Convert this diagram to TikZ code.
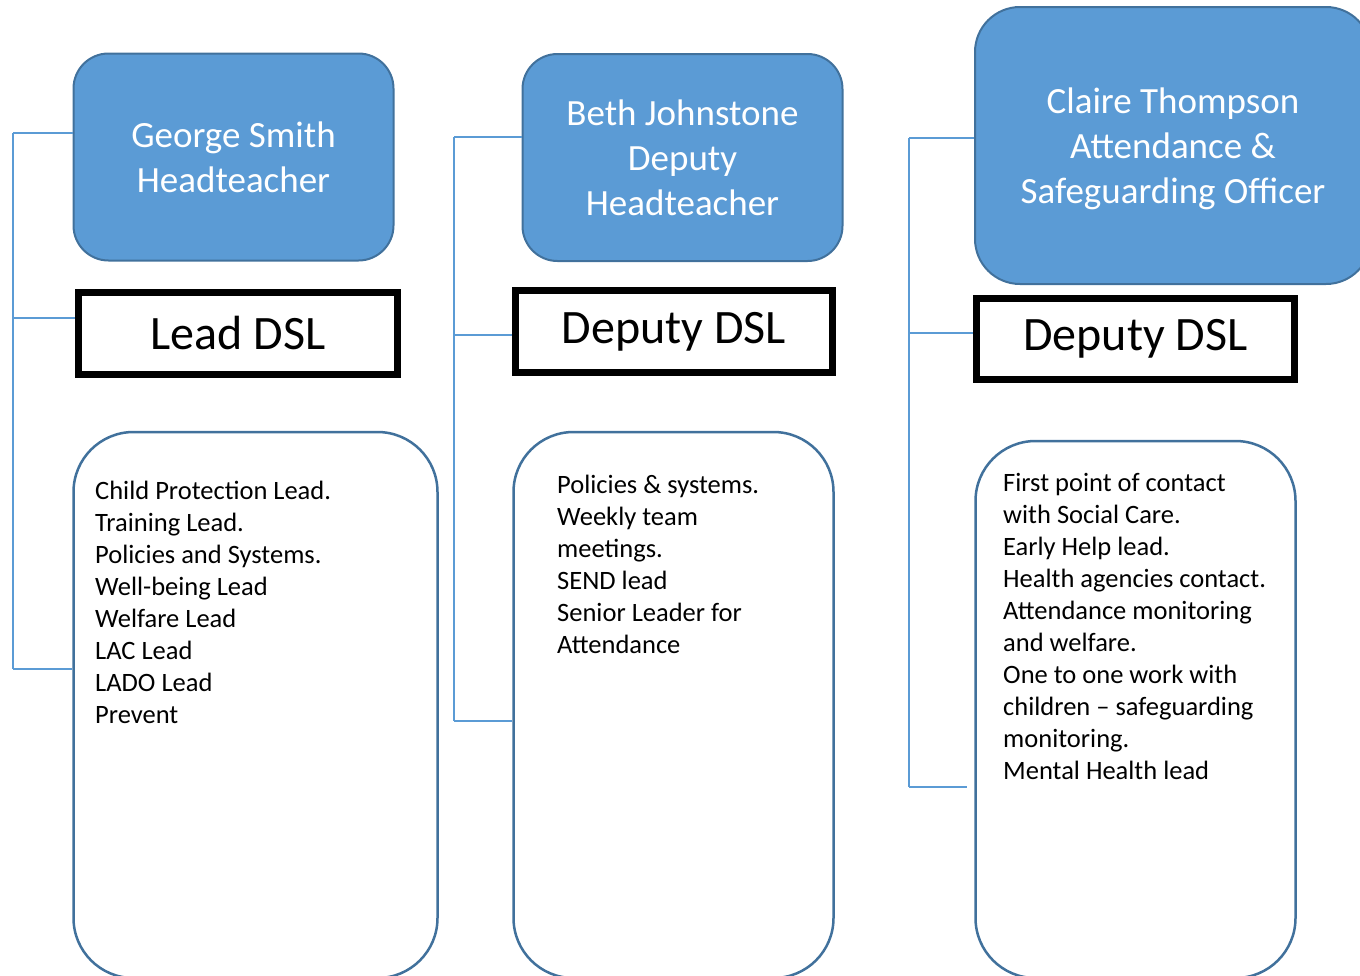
\documentclass[tikz,border=0pt]{standalone}
\usepackage{fontspec}
\setmainfont{Carlito}
\usepackage{tikz}
\definecolor{dslblue}{HTML}{5B9BD5}
\definecolor{dsledge}{HTML}{41719C}

\begin{document}
\begin{tikzpicture}[x=1pt, y=-1pt,
    namebox/.style={draw=dsledge, line width=2pt, fill=dslblue, rounded corners=35pt,
        text=white, align=center, inner sep=0pt,
        font=\fontsize{37}{45}\selectfont},
    rolebox/.style={draw=black, line width=7pt, inner sep=0pt,
        font=\fontsize{48}{56}\selectfont},
    dutybox/.style={draw=dsledge, line width=2.5pt, rounded corners=60pt, inner sep=0pt},
    dutytext/.style={anchor=north west, align=left, inner sep=0pt,
        font=\fontsize{26.5}{32}\selectfont},
    link/.style={draw=dslblue, line width=1.5pt}]

    \useasboundingbox (0,0) rectangle (1360,975);
    \clip (0,0) rectangle (1360,975);

    % George Smith column
    \node[namebox, minimum width=320, minimum height=207] (geo) at (233.5,157)
        {George Smith\\Headteacher};
    \node[rolebox, minimum width=319, minimum height=82] (lead) at (238,333.5) {Lead DSL};
    \node[dutybox, minimum width=364, minimum height=546] (geoduty) at (255.5,705) {};
    \node[dutytext] (geotext) at (95,481)
        {Child Protection Lead.\\Training Lead.\\Policies and Systems.\\Well-being Lead\\Welfare Lead\\LAC Lead\\LADO Lead\\Prevent};

    % Beth Johnstone column
    \node[namebox, minimum width=320, minimum height=207] (beth) at (682.5,157.5)
        {Beth Johnstone\\Deputy\\Headteacher};
    \node[rolebox, minimum width=317, minimum height=82] (dep1) at (674,331.5) {Deputy DSL};
    \node[dutybox, minimum width=320, minimum height=546] (bethduty) at (673.5,705) {};
    \node[dutytext] (bethtext) at (557,475)
        {Policies \& systems.\\Weekly team\\meetings.\\SEND lead\\Senior Leader for\\Attendance};

    % Claire Thompson column
    \node[namebox, rounded corners=45pt, minimum width=396, minimum height=277] (claire) at (1173,145.5) {};
    \node[text=white, align=center, inner sep=0pt, font=\fontsize{37}{45}\selectfont]
        (clairename) at (1173,148.5) {Claire Thompson\\Attendance \&\\Safeguarding Officer};
    \node[rolebox, minimum width=318, minimum height=81] (dep2) at (1135.5,339) {Deputy DSL};
    \node[dutybox, minimum width=320, minimum height=537] (claireduty) at (1135.5,709.5) {};
    \node[dutytext] (clairetext) at (1003,473)
        {First point of contact\\with Social Care.\\Early Help lead.\\Health agencies contact.\\Attendance monitoring\\and welfare.\\One to one work with\\children -- safeguarding\\monitoring.\\Mental Health lead};

    % connectors
    \coordinate (bus1a) at (13,133);
    \coordinate (bus1b) at (13,669);
    \draw[link] (bus1a) -- (bus1b);
    \draw[link] (bus1a) -- (geo.west |- bus1a);
    \draw[link] (13,318) -- (lead.west |- 0,318);
    \draw[link] (bus1b) -- (geoduty.west |- bus1b);

    \coordinate (bus2a) at (454,137);
    \coordinate (bus2b) at (454,721);
    \draw[link] (bus2a) -- (bus2b);
    \draw[link] (bus2a) -- (beth.west |- bus2a);
    \draw[link] (454,335) -- (dep1.west |- 0,335);
    \draw[link] (bus2b) -- (bethduty.west |- bus2b);

    \coordinate (bus3a) at (909,138);
    \coordinate (bus3b) at (909,787);
    \draw[link] (bus3a) -- (bus3b);
    \draw[link] (bus3a) -- (claire.west |- bus3a);
    \draw[link] (909,333) -- (dep2.west |- 0,333);
    \draw[link] (bus3b) -- ([xshift=-7pt]claireduty.west |- bus3b);

\end{tikzpicture}
\end{document}
